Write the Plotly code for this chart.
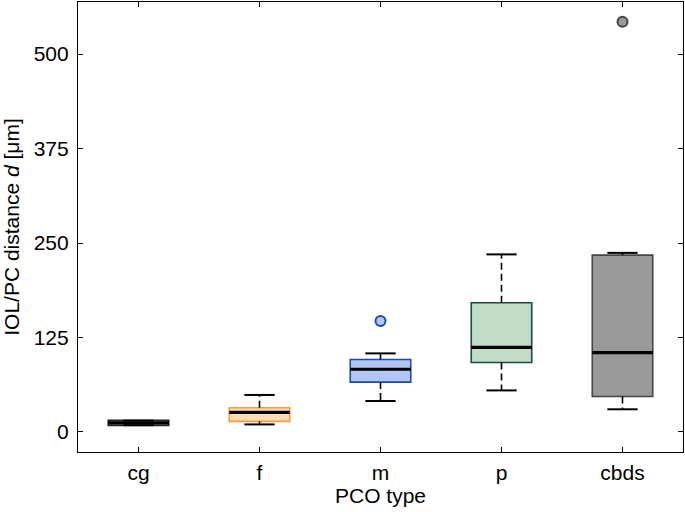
import plotly.graph_objects as go

categories = ["cg", "f", "m", "p", "cbds"]
lower_whisker = [9, 10, 41, 55, 30]
q1 = [8.5, 14, 66, 92, 47]
median = [12, 26, 83, 112, 105]
q3 = [15.5, 32, 96, 171, 234]
upper_whisker = [15, 49, 104, 235, 237]
outlier_cat = [2, 4]
outlier_val = [147, 543]

fill_colors = ["#8c8c8c", "#fcdcb6", "#b3c7f7", "#c1dcc7", "#999999"]
edge_colors = ["#222222", "#f0a040", "#1f4aa6", "#1d4a42", "#454545"]

y_ticks = [0, 125, 250, 375, 500]

fig = go.Figure()
for i, c in enumerate(categories):
    fig.add_trace(go.Box(
        x=[i], q1=[q1[i]], median=[median[i]], q3=[q3[i]],
        lowerfence=[q1[i]], upperfence=[q3[i]],
        width=0.5, whiskerwidth=0, fillcolor=fill_colors[i],
        line=dict(color=edge_colors[i], width=1.6),
        boxpoints=False, showlegend=False, hoverinfo="skip"))

for i, c in enumerate(categories):
    # whiskers (dashed)
    fig.add_trace(go.Scatter(
        x=[i, i, None, i, i],
        y=[q3[i], upper_whisker[i], None, q1[i], lower_whisker[i]],
        mode="lines", line=dict(color="black", width=1.6, dash="7px,4px"),
        showlegend=False, hoverinfo="skip"))
    # caps
    fig.add_trace(go.Scatter(
        x=[i - 0.125, i + 0.125, None, i - 0.125, i + 0.125],
        y=[upper_whisker[i], upper_whisker[i], None, lower_whisker[i], lower_whisker[i]],
        mode="lines", line=dict(color="black", width=2),
        showlegend=False, hoverinfo="skip"))
    # median
    fig.add_trace(go.Scatter(
        x=[i - 0.25, i + 0.25], y=[median[i], median[i]],
        mode="lines", line=dict(color="black", width=3.2),
        showlegend=False, hoverinfo="skip"))

fig.add_trace(go.Scatter(
    x=outlier_cat, y=outlier_val, mode="markers",
    marker=dict(size=10, color=[fill_colors[k] for k in outlier_cat],
                line=dict(color=[edge_colors[k] for k in outlier_cat], width=2)),
    showlegend=False, hoverinfo="skip", cliponaxis=False))

font = dict(family="Liberation Sans, Arial, sans-serif", size=21, color="black")
fig.update_layout(
    width=685, height=512,
    margin=dict(l=78, r=2, t=2, b=60),
    plot_bgcolor="white", paper_bgcolor="white",
    font=font,
    xaxis=dict(
        range=[-0.5, 4.5], tickmode="array", tickvals=list(range(len(categories))),
        ticktext=categories, ticks="inside", ticklen=5, tickcolor="black",
        showline=True, linecolor="black", linewidth=1.2, mirror="ticks",
        showgrid=False, zeroline=False, automargin=False, ticklabelstandoff=2,
        title=dict(text="PCO type", standoff=5, font=dict(size=21)),
    ),
    yaxis=dict(
        range=[-26.5, 569], tickmode="array", tickvals=y_ticks,
        ticks="inside", ticklen=5, tickcolor="black",
        showline=True, linecolor="black", linewidth=1.2, mirror="ticks",
        showgrid=False, zeroline=False, ticklabelstandoff=4, automargin=False,
        title=dict(text="IOL/PC distance <i>d</i> [μm]", standoff=17, font=dict(size=21)),
    ),
)

fig.write_html(
    "out.html",
    config={"responsive": False, "displayModeBar": False},
    post_script="document.body.style.margin='0';document.body.style.overflow='hidden';",
)
